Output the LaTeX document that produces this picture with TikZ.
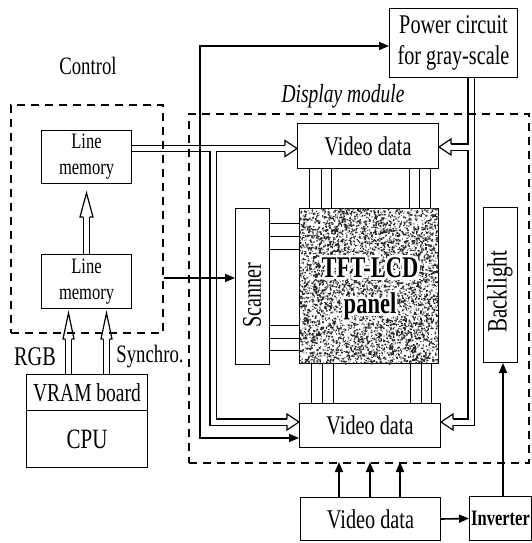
\documentclass[tikz,border=0pt]{standalone}
\usepackage{fontspec}
\setmainfont{Liberation Serif}[FakeStretch=0.75]
\usetikzlibrary{arrows.meta}
\pgfdeclarelayer{bg}
\pgfsetlayers{bg,main}
\newcommand\HHead[4]{%
  \begin{scope}[shift={(#1)},rotate=#2]
    \draw[hollowhead] (-#3,-3.1) -- (-#3,-#4) -- (0,0) -- (-#3,#4) -- (-#3,3.1);
  \end{scope}}
\newcommand\DblRoutes[1]{%
  \draw[#1] (lm1.east |- h1) -- (e1);
  \draw[#1] (hb) -- (hb2) -- (e2);
  \draw[#1] (power.south -| pv) -- (p422) -- (e4);
  \draw[#1] (p147) -- (e3);
  \draw[#1] (lm2.north) -- (e5);
  \draw[#1] (vram.north -| r) -- (e6);
  \draw[#1] (vram.north -| s) -- (e7);}
\newcommand\vdfont{\fontsize{27}{31}\selectfont}
\newcommand\lmfont{\fontsize{22}{26}\selectfont}
\begin{document}
\begin{tikzpicture}[x=1pt,y=-1pt,
  box/.style={draw, line width=1pt, inner sep=0pt, anchor=north west, align=center},
  txt/.style={inner sep=0pt, align=center},
  bus/.style={line width=1.6pt},
  >={Triangle[length=10pt,width=8pt]},
  thinline/.style={line width=1pt},
  dashedframe/.style={draw, line width=2.2pt, dash pattern=on 8pt off 6pt, inner sep=0pt, anchor=north west},
  dblout/.style={line width=7.4pt, line join=miter},
  dblin/.style={line width=5pt, white, line join=miter},
  hollowhead/.style={draw, fill=white, line width=1.2pt, line join=miter},
  paneltext/.style={inner sep=0pt, align=center, font=\fontsize{30}{36}\selectfont\bfseries}]
\useasboundingbox (0,0) rectangle (531,543);

% frames
\node[dashedframe, minimum width=152, minimum height=228] (ctrl) at (10,104) {};
\node[dashedframe, minimum width=340, minimum height=349] (dm) at (188,113) {};
\node[txt, font=\fontsize{25}{29}\selectfont] (ctrllabel) at (88,66) {Control};
\node[txt, font=\fontsize{26}{30}\selectfont\itshape] (dmlabel) at (343,96) {Display module};

% boxes
\node[box, minimum width=90, minimum height=53, font=\lmfont] (lm1) at (41,130) {Line\\memory};
\node[box, minimum width=90, minimum height=54, font=\lmfont] (lm2) at (41,254) {Line\\memory};
\node[box, minimum width=121, minimum height=36, font=\fontsize{26}{30}\selectfont] (vram) at (26,374) {VRAM board};
\node[box, minimum width=121, minimum height=57, font=\fontsize{28}{32}\selectfont] (cpu) at (26,410) {CPU};
\node[txt, font=\fontsize{27}{31}\selectfont] (rgb) at (35,357) {RGB};
\node[txt, font=\fontsize{25}{29}\selectfont] (syn) at (150,357) {Synchro.};
\node[box, minimum width=128, minimum height=69, font=\vdfont] (power) at (389,8) {Power circuit\\for gray-scale};
\node[box, minimum width=141, minimum height=45, font=\vdfont] (vd1) at (297,123) {Video data};
\node[box, minimum width=139, minimum height=155] (panel) at (299,208) {};
\node[box, minimum width=34, minimum height=156] (scanner) at (235,208) {};
\node[txt, rotate=90, font=\vdfont] (scantxt) at (252,295) {Scanner};
\node[box, minimum width=141, minimum height=44, font=\vdfont] (vd2) at (299,403) {Video data};
\node[box, minimum width=34, minimum height=155] (backlight) at (483,207) {};
\node[txt, rotate=90, font=\fontsize{28}{32}\selectfont] (bltxt) at (500,292) {Backlight};
\node[box, minimum width=140, minimum height=43, font=\vdfont] (vd3) at (300,497) {Video data};
\node[box, minimum width=62, minimum height=44, font=\fontsize{22}{26}\selectfont\bfseries] (inv) at (469,496) {Inverter};

% panel texture
\begin{scope}
  \clip (panel.north west) rectangle (panel.south east);
  \pgfmathsetseed{12}
  \fill[black!85] \foreach \i in {1,...,3600} { ({299+139*rnd},{208+155*rnd}) rectangle +({0.8+1.2*rnd},{0.8+1.2*rnd}) };
  \fill[black!60] \foreach \i in {1,...,1500} { ({299+139*rnd},{208+155*rnd}) rectangle +(1,1) };
\end{scope}
\coordinate (ptxt) at (370,289);
\foreach \a [count=\k] in {0,22.5,...,337.5} {
  \node[paneltext, text=white] (halo\k) at ([shift={(\a:2.6pt)}]ptxt) {TFT-LCD\\panel};
}
\node[paneltext] (paneltxt) at (ptxt) {TFT-LCD\\panel};

% coordinates
\coordinate (h1) at (0,148.5);
\coordinate (hb) at (213,148.5);
\coordinate (hb2) at (213,422);
\coordinate (h2) at (0,422);
\coordinate (pv) at (471,0);
\coordinate (p147) at (471,147);
\coordinate (p422) at (471,422);
\coordinate (r) at (68.5,0);
\coordinate (s) at (106.5,0);
\path (vd1.west |- h1) coordinate (tip1) ++(-11,0) coordinate (e1);
\path (vd2.west |- h2) coordinate (tip2) ++(-11,0) coordinate (e2);
\path (vd1.east |- p147) coordinate (tip3) ++(11,0) coordinate (e3);
\path (vd2.east |- h2) coordinate (tip4) ++(11,0) coordinate (e4);
\path (lm1.south) ++(0,9) coordinate (tip5) ++(0,23) coordinate (e5);
\path (lm2.south -| r) ++(0,4) coordinate (tip6) ++(0,25) coordinate (e6);
\path (lm2.south -| s) ++(0,4) coordinate (tip7) ++(0,25) coordinate (e7);

% hollow (double) connectors
\begin{pgfonlayer}{bg}
  \DblRoutes{dblout}
  \DblRoutes{dblin}
  \HHead{tip1}{0}{12}{8}
  \HHead{tip2}{0}{12}{8}
  \HHead{tip3}{180}{12}{8}
  \HHead{tip4}{180}{12}{8}
  \HHead{tip5}{90}{24}{6.5}
  \HHead{tip6}{90}{26}{5.5}
  \HHead{tip7}{90}{26}{5.5}
\end{pgfonlayer}

% bus
\coordinate (bt) at (200,46);
\coordinate (bb) at (200,438);
\coordinate (sc) at (0,278);
\draw[bus,<->] (power.west |- bt) -- (bt) -- (bb) -- (vd2.west |- bb);
\draw[bus,->] (ctrl.east |- sc) -- (scanner.west |- sc);

% scanner to panel
\foreach \y in {223,236,249,325,338,350} {
  \coordinate (sy\y) at (0,\y);
  \draw[thinline] (scanner.east |- sy\y) -- (panel.west |- sy\y);
}
\foreach \x in {309,321,331,409,419,430} {
  \coordinate (tx\x) at (\x,0);
  \draw[thinline] (vd1.south -| tx\x) -- (panel.north -| tx\x);
}
\foreach \x in {311,322,333,410,421,431} {
  \coordinate (bx\x) at (\x,0);
  \draw[thinline] (panel.south -| bx\x) -- (vd2.north -| bx\x);
}

% bottom arrows
\foreach \x in {339,370,400} {
  \coordinate (d\x) at (\x,462);
  \draw[bus,->] (vd3.north -| d\x) -- (d\x);
}
\draw[bus,->] (vd3.east) -- (inv.west);
\coordinate (ib) at (503,0);
\draw[bus,->] (inv.north -| ib) -- (backlight.south -| ib);
\end{tikzpicture}
\end{document}
